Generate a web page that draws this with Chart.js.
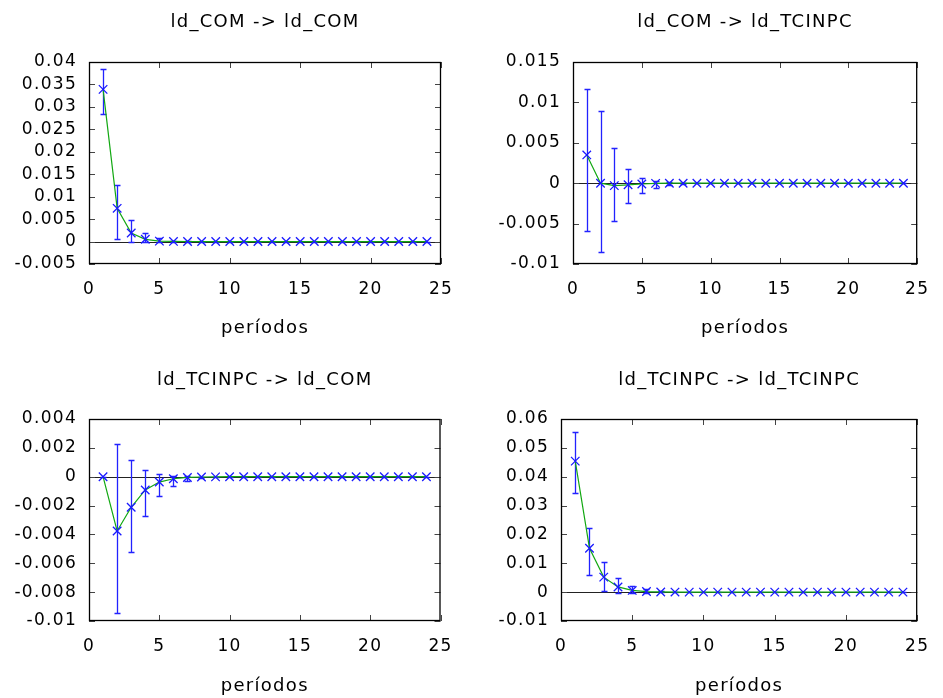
<!DOCTYPE html>
<html>
<head>
<meta charset="utf-8">
<script src="https://cdn.jsdelivr.net/npm/chart.js@4.4.1/dist/chart.umd.min.js"></script>
<style>
  body { margin: 0; background: #fff; }
  #wrap { position: relative; width: 943px; height: 698px; }
  canvas { position: absolute; }
</style>
</head>
<body>
<div id="wrap">
  <canvas id="c1" width="471" height="349" style="left:0;top:0"></canvas>
  <canvas id="c2" width="472" height="349" style="left:471px;top:0"></canvas>
  <canvas id="c3" width="471" height="349" style="left:0;top:349px"></canvas>
  <canvas id="c4" width="472" height="349" style="left:471px;top:349px"></canvas>
</div>
<script>
const periods = [1, 2, 3, 4, 5, 6, 7, 8, 9, 10, 11, 12, 13, 14, 15, 16, 17, 18, 19, 20, 21, 22, 23, 24];
const xTicks = [0, 5, 10, 15, 20, 25];

// ld_COM -> ld_COM
const comCom   = [0.0339, 0.0074, 0.0019, 0.0005, 0.0001, 0.00003, 0.00001, 0, 0, 0, 0, 0, 0, 0, 0, 0, 0, 0, 0, 0, 0, 0, 0, 0];
const comComLo = [0.0284, 0.0005, -0.0002, -0.0002, -0.0001, -0.00003, 0, 0, 0, 0, 0, 0, 0, 0, 0, 0, 0, 0, 0, 0, 0, 0, 0, 0];
const comComHi = [0.0384, 0.0126, 0.0047, 0.0018, 0.0009, 0.0002, 0.00005, 0.00001, 0, 0, 0, 0, 0, 0, 0, 0, 0, 0, 0, 0, 0, 0, 0, 0];
const comComTicks = [-0.005, 0, 0.005, 0.01, 0.015, 0.02, 0.025, 0.03, 0.035, 0.04];

// ld_COM -> ld_TCINPC
const comTc   = [0.0035, 0, -0.0003, -0.0002, -0.0001, -0.00002, 0, 0, 0, 0, 0, 0, 0, 0, 0, 0, 0, 0, 0, 0, 0, 0, 0, 0];
const comTcLo = [-0.0059, -0.0085, -0.0047, -0.0024, -0.0012, -0.0006, -0.0002, -0.00005, -0.00001, 0, 0, 0, 0, 0, 0, 0, 0, 0, 0, 0, 0, 0, 0, 0];
const comTcHi = [0.01165, 0.0089, 0.0044, 0.0018, 0.0007, 0.0003, 0.0001, 0.00003, 0.00001, 0, 0, 0, 0, 0, 0, 0, 0, 0, 0, 0, 0, 0, 0, 0];
const comTcTicks = [-0.01, -0.005, 0, 0.005, 0.01, 0.015];

// ld_TCINPC -> ld_COM
const tcCom   = [0, -0.00376, -0.00212, -0.00092, -0.00037, -0.00014, -0.00005, -0.00002, -0.00001, 0, 0, 0, 0, 0, 0, 0, 0, 0, 0, 0, 0, 0, 0, 0];
const tcComLo = [0, -0.00943, -0.00524, -0.0027, -0.00132, -0.00064, -0.0003, -0.00012, -0.00005, -0.00002, 0, 0, 0, 0, 0, 0, 0, 0, 0, 0, 0, 0, 0, 0];
const tcComHi = [0, 0.00224, 0.00114, 0.00044, 0.00016, 0.00003, 0.00002, 0.00001, 0, 0, 0, 0, 0, 0, 0, 0, 0, 0, 0, 0, 0, 0, 0, 0];
const tcComTicks = [-0.01, -0.008, -0.006, -0.004, -0.002, 0, 0.002, 0.004];

// ld_TCINPC -> ld_TCINPC
const tcTc   = [0.0454, 0.0152, 0.0052, 0.0018, 0.0006, 0.0002, 0.00007, 0.00002, 0, 0, 0, 0, 0, 0, 0, 0, 0, 0, 0, 0, 0, 0, 0, 0];
const tcTcLo = [0.0342, 0.0060, 0.0005, -0.0002, -0.0003, -0.0002, -0.0001, 0, 0, 0, 0, 0, 0, 0, 0, 0, 0, 0, 0, 0, 0, 0, 0, 0];
const tcTcHi = [0.0554, 0.0223, 0.0104, 0.0049, 0.0023, 0.0010, 0.0004, 0.0001, 0.00003, 0, 0, 0, 0, 0, 0, 0, 0, 0, 0, 0, 0, 0, 0, 0];
const tcTcTicks = [-0.01, 0, 0.01, 0.02, 0.03, 0.04, 0.05, 0.06];

const FONT = 'DejaVu Sans';
const INK = '#000';
const fmt = v => String(Number(v.toPrecision(6)));

// gnuplot-ish frame: zero line, error bars, border and inward ticks on all sides
function makeFrame(lo, hi, yTicks) {
    return {
        id: 'frame',
        beforeDraw(chart) {
            chart.ctx.letterSpacing = '1.3px';
        },
        beforeDatasetsDraw(chart) {
            const { ctx, chartArea: a, scales: { x, y } } = chart;
            ctx.save();
            const y0 = Math.round(y.getPixelForValue(0)) + 0.5;
            ctx.strokeStyle = '#222';
            ctx.lineWidth = 1;
            ctx.beginPath();
            ctx.moveTo(a.left, y0);
            ctx.lineTo(a.right, y0);
            ctx.stroke();

            ctx.strokeStyle = '#2222ff';
            ctx.lineWidth = 1.3;
            lo.forEach((l, i) => {
                const px = Math.round(x.getPixelForValue(periods[i])) + 0.5;
                const pl = Math.round(y.getPixelForValue(l)) + 0.5;
                const ph = Math.round(y.getPixelForValue(hi[i])) + 0.5;
                ctx.beginPath();
                ctx.moveTo(px, pl); ctx.lineTo(px, ph);
                ctx.moveTo(px - 3, pl); ctx.lineTo(px + 3, pl);
                ctx.moveTo(px - 3, ph); ctx.lineTo(px + 3, ph);
                ctx.stroke();
            });
            ctx.restore();
        },
        afterDraw(chart) {
            const { ctx, chartArea: a, scales: { x, y } } = chart;
            ctx.save();
            ctx.strokeStyle = '#444';
            ctx.lineWidth = 1;
            ctx.beginPath();
            xTicks.forEach(t => {
                const px = Math.round(x.getPixelForValue(t)) + 0.5;
                ctx.moveTo(px, a.bottom); ctx.lineTo(px, a.bottom - 6);
                ctx.moveTo(px, a.top); ctx.lineTo(px, a.top + 6);
            });
            yTicks.forEach(t => {
                const py = Math.round(y.getPixelForValue(t)) + 0.5;
                ctx.moveTo(a.left, py); ctx.lineTo(a.left + 6, py);
                ctx.moveTo(a.right, py); ctx.lineTo(a.right - 6, py);
            });
            ctx.stroke();
            ctx.strokeStyle = '#000';
            ctx.lineWidth = 1.3;
            ctx.strokeRect(a.left + 0.5, a.top + 0.5, a.right - a.left - 1, a.bottom - a.top - 1);
            ctx.restore();
        }
    };
}

function drawPanel(id, title, resp, lo, hi, yTicks, box) {
    new Chart(document.getElementById(id), {
        type: 'line',
        data: {
            datasets: [{
                data: periods.map((p, i) => ({ x: p, y: resp[i] })),
                borderColor: '#12a812',
                borderWidth: 1.2,
                tension: 0,
                pointStyle: 'crossRot',
                pointRadius: 6,
                pointBorderColor: '#1a1aff',
                pointBorderWidth: 1.3,
                pointBackgroundColor: '#1a1aff'
            }]
        },
        options: {
            responsive: false,
            animation: false,
            events: [],
            layout: { padding: { left: 0, right: box.right, top: 0, bottom: 0 } },
            plugins: {
                legend: { display: false },
                tooltip: { enabled: false },
                title: {
                    display: true,
                    text: title,
                    fullSize: false,
                    color: INK,
                    font: { family: FONT, size: 18, weight: 'normal' },
                    padding: { top: box.titleTop, bottom: box.titleBottom }
                }
            },
            scales: {
                x: {
                    type: 'linear',
                    min: 0,
                    max: 25,
                    grid: { display: false, drawTicks: false },
                    border: { display: false },
                    afterBuildTicks: s => { s.ticks = xTicks.map(v => ({ value: v })); },
                    afterFit: s => { s.height = box.xHeight; },
                    ticks: {
                        padding: 15,
                        color: INK,
                        autoSkip: false,
                        maxRotation: 0,
                        font: { family: FONT, size: 17 },
                        callback: v => fmt(v)
                    },
                    title: {
                        display: true,
                        text: 'períodos',
                        color: INK,
                        font: { family: FONT, size: 18 },
                        padding: { top: 0, bottom: box.xTitleBottom }
                    }
                },
                y: {
                    type: 'linear',
                    min: yTicks[0],
                    max: yTicks[yTicks.length - 1],
                    grid: { display: false, drawTicks: false },
                    border: { display: false },
                    afterBuildTicks: s => { s.ticks = yTicks.map(v => ({ value: v })); },
                    afterFit: s => { s.width = box.left; },
                    ticks: {
                        padding: 12,
                        color: INK,
                        autoSkip: false,
                        font: { family: FONT, size: 17 },
                        callback: v => fmt(v)
                    }
                }
            }
        },
        plugins: [makeFrame(lo, hi, yTicks)]
    });
}

drawPanel('c1', 'ld_COM -> ld_COM', comCom, comComLo, comComHi, comComTicks,
    { left: 89, right: 30, titleTop: 11.2, titleBottom: 29.2, xHeight: 85, xTitleBottom: 10 });
drawPanel('c2', 'ld_COM -> ld_TCINPC', comTc, comTcLo, comTcHi, comTcTicks,
    { left: 102, right: 19, titleTop: 11.2, titleBottom: 29.2, xHeight: 85, xTitleBottom: 10 });
drawPanel('c3', 'ld_TCINPC -> ld_COM', tcCom, tcComLo, tcComHi, tcComTicks,
    { left: 89, right: 30.5, titleTop: 20.2, titleBottom: 28.2, xHeight: 77, xTitleBottom: 0.5 });
drawPanel('c4', 'ld_TCINPC -> ld_TCINPC', tcTc, tcTcLo, tcTcHi, tcTcTicks,
    { left: 90, right: 19, titleTop: 20.2, titleBottom: 28.2, xHeight: 77, xTitleBottom: 0.5 });
</script>
</body>
</html>
